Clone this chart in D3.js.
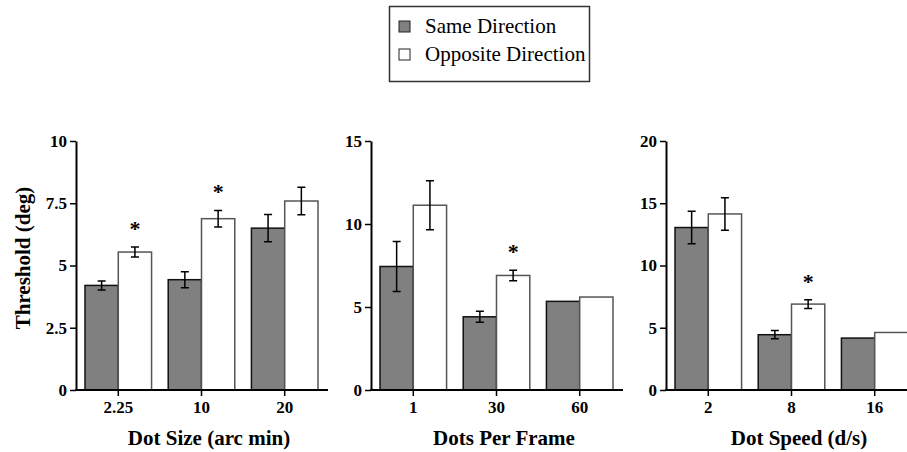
<!DOCTYPE html>
<html>
<head>
<meta charset="utf-8">
<script src="https://cdn.jsdelivr.net/npm/d3@7"></script>
<style>
  body { margin: 0; background: #fff; }
  svg { display: block; font-family: "Liberation Serif", "Times New Roman", serif; }
</style>
</head>
<body>
<svg id="svg" width="907" height="452"></svg>
<script>
// data
const sizeGroups = ["2.25", "10", "20"];
const sizeSame = [4.2, 4.43, 6.5];
const sizeSameErr = [0.18, 0.32, 0.55];
const sizeOpp = [5.54, 6.88, 7.59];
const sizeOppErr = [0.2, 0.33, 0.55];
const sizeSig = [true, true, false];
const sizeTicks = [0, 2.5, 5, 7.5, 10];

const framesGroups = ["1", "30", "60"];
const framesSame = [7.44, 4.41, 5.34];
const framesSameErr = [1.5, 0.33, 0];
const framesOpp = [11.13, 6.9, 5.6];
const framesOppErr = [1.47, 0.32, 0];
const framesSig = [false, true, false];
const framesTicks = [0, 5, 10, 15];

const speedGroups = ["2", "8", "16"];
const speedSame = [13.05, 4.44, 4.17];
const speedSameErr = [1.31, 0.33, 0];
const speedOpp = [14.14, 6.9, 4.62];
const speedOppErr = [1.3, 0.35, 0];
const speedSig = [false, true, false];
const speedTicks = [0, 5, 10, 15, 20];

const seriesNames = ["Same Direction", "Opposite Direction"];
const seriesFill = ["#808080", "#ffffff"];
const seriesStroke = ["#111", "#555"];

const panels = [
  {groups: sizeGroups, same: sizeSame, sameErr: sizeSameErr, opp: sizeOpp, oppErr: sizeOppErr, sig: sizeSig, ticks: sizeTicks, title: "Dot Size (arc min)", ax: 76},
  {groups: framesGroups, same: framesSame, sameErr: framesSameErr, opp: framesOpp, oppErr: framesOppErr, sig: framesSig, ticks: framesTicks, title: "Dots Per Frame", ax: 371},
  {groups: speedGroups, same: speedSame, sameErr: speedSameErr, opp: speedOpp, oppErr: speedOppErr, sig: speedSig, ticks: speedTicks, title: "Dot Speed (d/s)", ax: 666}
];

const svg = d3.select("#svg");
const yTop = 141, yBottom = 390;

panels.forEach(p => {
  const g = svg.append("g");
  const x = d3.scaleBand().domain(p.groups).range([p.ax + 9, p.ax + 242]).paddingInner(0.2);
  const y = d3.scaleLinear().domain([0, d3.max(p.ticks)]).range([yBottom, yTop]);
  const bw = x.bandwidth() / 2;

  const rows = p.groups.map((k, i) => ({k: k, i: i}));

  [[p.same, p.sameErr], [p.opp, p.oppErr]].forEach((s, si) => {
    const vals = s[0], errs = s[1];
    g.selectAll(null).data(rows).join("rect")
      .attr("x", d => x(d.k) + si * bw)
      .attr("y", d => y(vals[d.i]))
      .attr("width", bw)
      .attr("height", d => yBottom - y(vals[d.i]))
      .attr("fill", seriesFill[si])
      .attr("stroke", seriesStroke[si])
      .attr("stroke-width", 1.5);

    const eb = rows.filter(d => errs[d.i] > 0);
    const cx = d => x(d.k) + si * bw + bw / 2;
    g.selectAll(null).data(eb).join("path")
      .attr("fill", "none")
      .attr("stroke", "#000")
      .attr("stroke-width", 1.5)
      .attr("d", d => {
        const c = cx(d), t = y(vals[d.i] + errs[d.i]), b = y(vals[d.i] - errs[d.i]);
        return `M${c},${t}V${b}M${c - 4},${t}H${c + 4}M${c - 4},${b}H${c + 4}`;
      });

    if (si === 1) {
      g.selectAll(null).data(rows.filter(d => p.sig[d.i])).join("text")
        .attr("x", cx)
        .attr("y", d => y(vals[d.i] + errs[d.i]) - 21 + 10)
        .attr("text-anchor", "middle")
        .attr("font-size", 22)
        .attr("font-weight", "bold")
        .text("*");
    }
  });

  // y axis
  const yAxis = g.append("g")
    .attr("transform", `translate(${p.ax},0)`)
    .call(d3.axisLeft(y).tickValues(p.ticks).tickFormat(d3.format("")).tickSize(6).tickSizeOuter(0).tickPadding(3));
  yAxis.select(".domain").attr("stroke-width", 2);
  yAxis.selectAll(".tick line").attr("stroke-width", 1.5);
  yAxis.selectAll("text").attr("font-family", "Liberation Serif").attr("font-size", 17).attr("font-weight", "bold").attr("fill", "#000");

  // x axis
  const xAxis = g.append("g")
    .attr("transform", `translate(0,${yBottom})`)
    .call(d3.axisBottom(x).tickSize(6).tickSizeOuter(0).tickPadding(5));
  xAxis.select(".domain").remove();
  xAxis.append("line").attr("x1", p.ax - 1).attr("x2", p.ax + 252).attr("stroke", "#000").attr("stroke-width", 2);
  xAxis.selectAll(".tick line").attr("stroke-width", 1.5);
  xAxis.selectAll("text").attr("font-family", "Liberation Serif").attr("font-size", 17).attr("font-weight", "bold").attr("fill", "#000");

  g.append("text")
    .attr("x", p.ax + 133)
    .attr("y", 445)
    .attr("text-anchor", "middle")
    .attr("font-size", 21)
    .attr("font-weight", "bold")
    .text(p.title);
});

// y title
svg.append("text")
  .attr("transform", "translate(30,258) rotate(-90)")
  .attr("text-anchor", "middle")
  .attr("font-size", 21)
  .attr("font-weight", "bold")
  .text("Threshold (deg)");

// legend
const legend = svg.append("g");
legend.append("rect")
  .attr("x", 389.5).attr("y", 6.5).attr("width", 200).attr("height", 75)
  .attr("fill", "#fff").attr("stroke", "#333").attr("stroke-width", 1.5);
seriesNames.forEach((name, i) => {
  legend.append("rect")
    .attr("x", 399).attr("y", 21 + i * 28).attr("width", 11).attr("height", 11)
    .attr("fill", seriesFill[i]).attr("stroke", "#222").attr("stroke-width", 1);
  legend.append("text")
    .attr("x", 425).attr("y", 33 + i * 28)
    .attr("font-size", 21)
    .text(name);
});
</script>
</body>
</html>
